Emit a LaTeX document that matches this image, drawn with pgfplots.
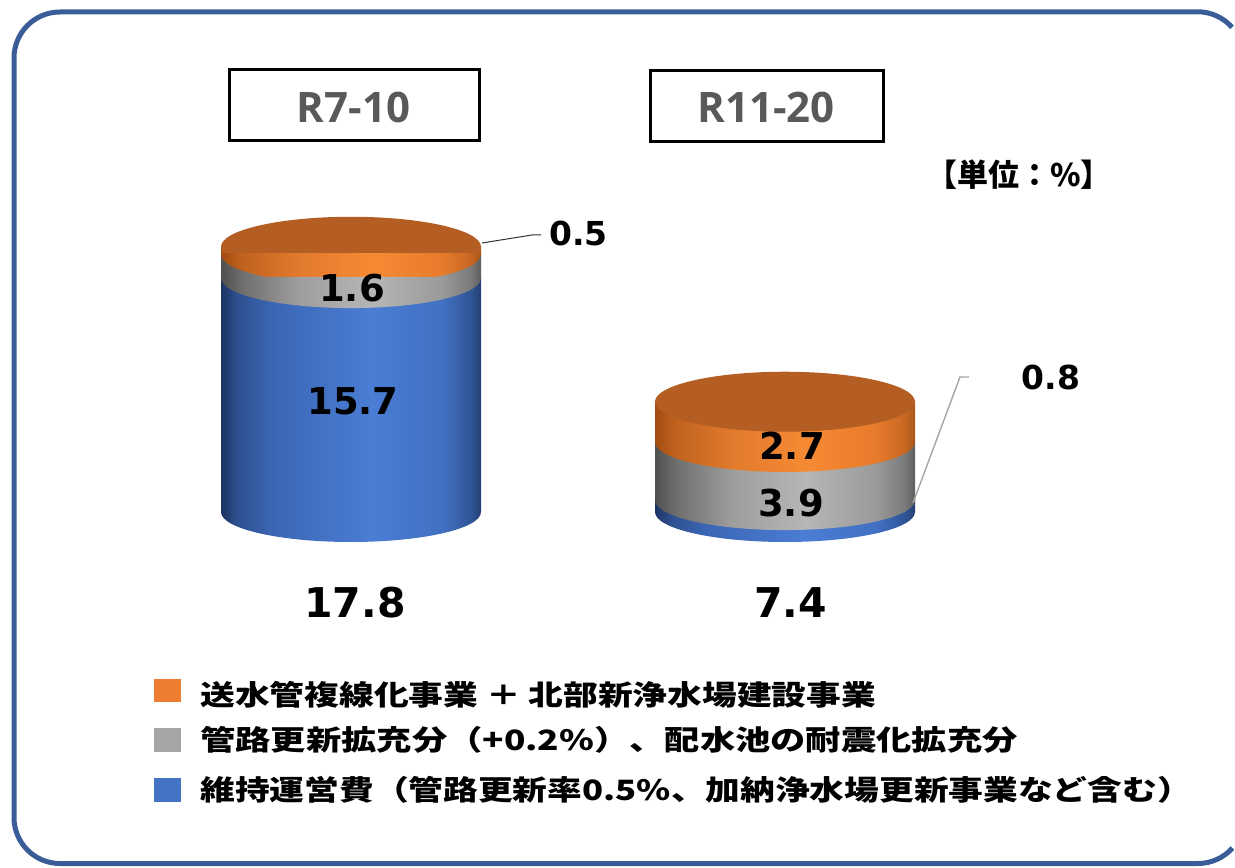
\documentclass[border=0pt]{standalone}
\usepackage{pgfplots}
\pgfplotsset{compat=1.18}
\usepackage{graphicx}
\usepackage{fontspec}
\setmainfont{DejaVu Sans}
\newfontfamily\cjk{Noto Sans CJK JP}
\newfontfamily\osans{Open Sans}

% colours
\definecolor{bl0}{HTML}{1E3461}\definecolor{bl1}{HTML}{2C4F8E}\definecolor{bl2}{HTML}{3C66B5}
\definecolor{bl3}{HTML}{4A7DD4}\definecolor{bl4}{HTML}{4270C2}\definecolor{bl5}{HTML}{2F5597}\definecolor{bl6}{HTML}{253F73}
\definecolor{gr0}{HTML}{4F4F4F}\definecolor{gr1}{HTML}{6E6E6E}\definecolor{gr2}{HTML}{9E9E9E}
\definecolor{gr3}{HTML}{B6B6B6}\definecolor{gr4}{HTML}{9A9A9A}\definecolor{gr5}{HTML}{7A7A7A}\definecolor{gr6}{HTML}{5E5E5E}
\definecolor{or0}{HTML}{A24C12}\definecolor{or1}{HTML}{C0621E}\definecolor{or2}{HTML}{E27A2D}
\definecolor{or3}{HTML}{F68A34}\definecolor{or4}{HTML}{E77B2C}\definecolor{or5}{HTML}{C86722}\definecolor{or6}{HTML}{A8561A}
\definecolor{cyltopc}{HTML}{B45E24}
\definecolor{legora}{HTML}{ED7D31}
\definecolor{leggray}{HTML}{A5A5A5}
\definecolor{legblue}{HTML}{4472C4}
\definecolor{titlegray}{HTML}{595959}
\definecolor{framec}{HTML}{3B5D97}

\pgfdeclarehorizontalshading{shblue}{100bp}{color(0bp)=(bl0); color(25bp)=(bl0); color(28bp)=(bl1); color(35bp)=(bl2); color(54bp)=(bl3); color(67.5bp)=(bl4); color(73bp)=(bl5); color(75bp)=(bl6); color(100bp)=(bl6)}
\pgfdeclarehorizontalshading{shgray}{100bp}{color(0bp)=(gr0); color(25bp)=(gr0); color(29bp)=(gr1); color(40bp)=(gr2); color(54bp)=(gr3); color(67.5bp)=(gr4); color(73bp)=(gr5); color(75bp)=(gr6); color(100bp)=(gr6)}
\pgfdeclarehorizontalshading{shorange}{100bp}{color(0bp)=(or0); color(25bp)=(or0); color(29bp)=(or1); color(40bp)=(or2); color(54bp)=(or3); color(67.5bp)=(or4); color(73bp)=(or5); color(75bp)=(or6); color(100bp)=(or6)}

% lower half ellipse (front edge of a cylinder band) and top face
\newcommand\halfell{%
  \pgfpathmoveto{\pgfqpoint{-65pt}{0.6pt}}%
  \pgfpathlineto{\pgfqpoint{-65pt}{0pt}}%
  \pgfpatharc{180}{360}{65pt and 15pt}%
  \pgfpathlineto{\pgfqpoint{65pt}{0.6pt}}%
  \pgfpathclose}
\pgfdeclareplotmark{halfblue}{\begin{pgfscope}\halfell\pgfshadepath{shblue}{0}\pgfusepath{discard}\end{pgfscope}}
\pgfdeclareplotmark{halfgray}{\begin{pgfscope}\halfell\pgfshadepath{shgray}{0}\pgfusepath{discard}\end{pgfscope}}
\pgfdeclareplotmark{halforange}{\begin{pgfscope}\halfell\pgfshadepath{shorange}{0}\pgfusepath{discard}\end{pgfscope}}
\pgfdeclareplotmark{cyltop}{\begin{pgfscope}\pgfpathellipse{\pgfpointorigin}{\pgfqpoint{65pt}{0pt}}{\pgfqpoint{0pt}{15pt}}\pgfsetfillcolor{cyltopc}\pgfusepath{fill}\end{pgfscope}}

\pgfplotsset{
 cylbase/.style={
  at={(0pt,0pt)}, anchor=south west,
  width=617.5pt, height=433.5pt, scale only axis,
  xmin=-0.80876, xmax=2.03687, ymin=-23.8255, ymax=34.3624,
  axis lines=none, xtick=\empty, ytick=\empty,
  clip=false},
 cylax/.style={cylbase, ybar stacked, bar width=130pt},
}

\begin{document}
\begin{tikzpicture}
% picture area (1235 x 867 px at 0.5pt per px)
\path (0,0) rectangle (617.5pt,433.5pt);

% bottom faces of both cylinders
\begin{axis}[cylbase]
\addplot[only marks, mark=halfblue] coordinates {(0,0) (1,0)};
\end{axis}

% R7-10
\begin{axis}[cylax]
\addplot[draw=none, shade, shading=shblue, mark=halfgray] coordinates {(0,15.7)};
\addplot[draw=none, shade, shading=shgray, mark=halforange] coordinates {(0,1.6)};
\addplot[draw=none, shade, shading=shorange, mark=cyltop] coordinates {(0,0.5)};
\end{axis}

% R11-20
\begin{axis}[cylax]
\addplot[draw=none, shade, shading=shblue, mark=halfgray] coordinates {(1,0.8)};
\addplot[draw=none, shade, shading=shgray, mark=halforange] coordinates {(1,3.9)};
\addplot[draw=none, shade, shading=shorange, mark=cyltop] coordinates {(1,2.7)};
\end{axis}

\begin{scope}[x=0.5pt, y=-0.5pt, yshift=433.5pt]
  % frame (its right side lies beyond the picture, as in the original)
  \draw[line width=2.5pt, framec, line cap=butt]
    (1232,27.3) arc[start angle=-41.5, end angle=-90, radius=46]
    -- (60,12) arc[start angle=-90, end angle=-180, radius=46]
    -- (14,817.5) arc[start angle=180, end angle=90, radius=46]
    -- (1198,863.5) arc[start angle=90, end angle=41.5, radius=46];
  % title boxes
  \draw[line width=1.5pt] (229.5,70) rectangle (479,140.5);
  \node[font=\osans\bfseries\fontsize{21}{24}\selectfont, text=titlegray] at (353.5,107) {R7-10};
  \draw[line width=1.5pt] (650,71) rectangle (883.5,141.5);
  \node[font=\osans\bfseries\fontsize{21}{24}\selectfont, text=titlegray] at (766,107) {R11-20};
  % unit
  \node[font=\cjk\bfseries\fontsize{15.5}{18}\selectfont] at (1019,175) {【単位：\%】};
  % segment labels
  \node[font=\bfseries\fontsize{18.5}{20}\selectfont] at (353,401) {15.7};
  \node[font=\bfseries\fontsize{18.5}{20}\selectfont] at (352,288.5) {1.6};
  \node[font=\bfseries\fontsize{18.5}{20}\selectfont] at (792,446) {2.7};
  \node[font=\bfseries\fontsize{18.5}{20}\selectfont] at (791,503) {3.9};
  % outside labels with leader lines
  \draw[line width=0.5pt, black!80] (482,243) -- (532,235) -- (541,235);
  \node[font=\bfseries\fontsize{16.5}{18}\selectfont] at (578.5,233) {0.5};
  \draw[line width=0.7pt, black!35] (913,503) -- (960,377) -- (969,377);
  \node[font=\bfseries\fontsize{16.5}{18}\selectfont] at (1051,377.5) {0.8};
  % totals
  \node[font=\bfseries\fontsize{20.5}{24}\selectfont] at (355,603) {17.8};
  \node[font=\bfseries\fontsize{20.5}{24}\selectfont] at (790.5,603) {7.4};
  % legend
  \fill[legora] (154,679) rectangle (181,702);
  \fill[leggray] (154,728) rectangle (181,752);
  \fill[legblue] (154,778) rectangle (181,802);
  \node[anchor=west, inner sep=0pt, font=\cjk\bfseries\fontsize{14}{16}\selectfont] at (200,694.5) {\scalebox{1.24}[1]{送水管複線化事業 ＋ 北部新浄水場建設事業}};
  \node[anchor=west, inner sep=0pt, font=\cjk\bfseries\fontsize{14}{16}\selectfont] at (200,740) {\scalebox{1.26}[1]{管路更新拡充分（+0.2\%）、配水池の耐震化拡充分}};
  \node[anchor=west, inner sep=0pt, font=\cjk\bfseries\fontsize{14}{16}\selectfont] at (200,790) {\scalebox{1.24}[1]{維持運営費（管路更新率0.5\%、加納浄水場更新事業など含む）}};
\end{scope}
\end{tikzpicture}
\end{document}
